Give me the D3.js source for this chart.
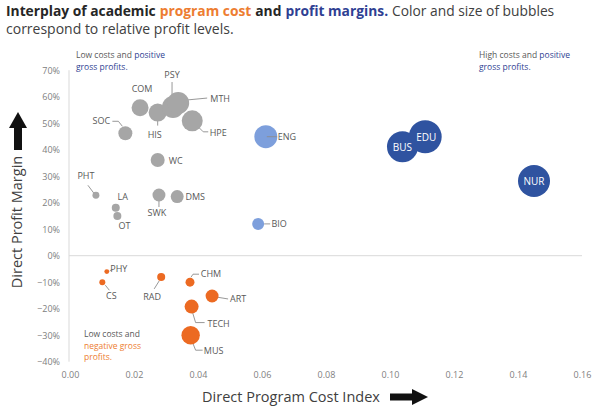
<!DOCTYPE html>
<html><head><meta charset="utf-8">
<script src="https://cdn.jsdelivr.net/npm/d3@7"></script>
<style>
html,body{margin:0;padding:0;background:#fff;}
svg{display:block;font-family:"Open Sans","Noto Sans",sans-serif;}
</style></head>
<body><svg id="c" width="600" height="411"></svg>
<script>
// ---- data ----
const programs = ["COM","HIS","PSY","MTH","HPE","SOC","ENG","WC","PHT","LA","OT","SWK","DMS","BIO","BUS","EDU","NUR","PHY","CS","RAD","CHM","ART","TECH","MUS"];
const costIndex = [0.0219,0.0274,0.0322,0.0338,0.0382,0.0173,0.0612,0.0274,0.0081,0.0143,0.0148,0.0278,0.0335,0.0588,0.1039,0.1110,0.1450,0.0115,0.0101,0.0285,0.0375,0.0444,0.0380,0.0377];
const profitMargin = [0.558,0.540,0.561,0.576,0.509,0.462,0.449,0.361,0.228,0.181,0.150,0.229,0.223,0.120,0.411,0.449,0.282,-0.060,-0.100,-0.080,-0.100,-0.152,-0.192,-0.300];
const profitLevel = [72,81,121,121,110,49,132,49,12,16,16,42,42,36,240,272,256,6,9,16,20,42,49,85];
const group = ["low","low","low","low","low","low","mid","low","low","low","low","low","low","mid","high","high","high","neg","neg","neg","neg","neg","neg","neg"];
const xTicks = [0,0.02,0.04,0.06,0.08,0.10,0.12,0.14,0.16];
const yTicks = [-0.4,-0.3,-0.2,-0.1,0,0.1,0.2,0.3,0.4,0.5,0.6,0.7];

// ---- layout (label offsets relative to bubble centre, leader polylines) ----
const labelLayout = {
  COM:{dx:2,dy:-19}, HIS:{dx:-3,dy:22,ln:[[0,6],[0,13]]},
  PSY:{dx:-1,dy:-32,ln:[[-1,-25],[-1,-8]]}, MTH:{dx:42,dy:-4,ln:[[8,-3],[29,-5]]},
  HPE:{dx:26,dy:12,ln:[[6,6],[11,11],[16,11]]}, SOC:{dx:-24,dy:-12,ln:[[-13,-12],[-7,-12],[-3,-7]]},
  ENG:{dx:21,dy:0,ln:[[1,0],[11,0]]}, WC:{dx:18,dy:1}, PHT:{dx:-10,dy:-19,ln:[[-8,-10],[-2,-2]]},
  LA:{dx:7,dy:-11}, OT:{dx:7,dy:10}, SWK:{dx:-2,dy:18,ln:[[0,6],[0,12]]}, DMS:{dx:18,dy:0},
  BIO:{dx:21,dy:0,ln:[[6,0],[12,0]]}, BUS:{dx:0,dy:1,inside:true}, EDU:{dx:1,dy:1,inside:true},
  NUR:{dx:0,dy:1,inside:true}, PHY:{dx:12,dy:-3,ln:[[3,-1],[6,-2]]}, CS:{dx:9,dy:14,ln:[[3,3],[7,8]]},
  RAD:{dx:-9,dy:20,ln:[[-2,4],[-7,12]]}, CHM:{dx:21,dy:-8,ln:[[1,-5],[3,-8],[9,-8]]},
  ART:{dx:26,dy:3,ln:[[4,1],[16,3]]}, TECH:{dx:27,dy:17,ln:[[1,6],[4,16],[13,16]]},
  MUS:{dx:23,dy:16,ln:[[1,5],[5,15],[12,15]]}
};
const colors = {low:"#a6a6a6", mid:"#7d9fdc", high:"#2f53a0", neg:"#ec6a22"};
const blue = "#2f3f93", orange = "#ed7d31", grey = "#595959";

const svg = d3.select("#c");
const x = d3.scaleLinear().domain([0,0.16]).range([70,582]);
const y = d3.scaleLinear().domain([-0.4,0.7]).range([361.7,70.2]);
const r = d3.scaleSqrt().domain([0,100]).range([0,10]);

// title: separate text runs laid out one after another
function runs(xp, yp, parts, size){
  let cx = xp;
  parts.forEach(p=>{
    const el = svg.append("text").attr("x",cx).attr("y",yp).attr("font-size",size)
      .attr("font-weight",p.b?"bold":"normal").attr("fill",p.c).text(p.t);
    cx += el.node().getComputedTextLength() + (p.gap||0);
  });
}
runs(6,15.5,[
  {t:"Interplay of academic",b:1,c:"#262626",gap:4},
  {t:"program cost",b:1,c:orange,gap:4},
  {t:"and",b:1,c:"#262626",gap:4},
  {t:"profit margins.",b:1,c:blue,gap:4},
  {t:"Color and size of bubbles",b:0,c:"#404040"}
],13.8);
svg.append("text").attr("x",6).attr("y",33.5).attr("font-size",14).attr("fill","#404040").text("correspond to relative profit levels.");

// axes lines
svg.append("line").attr("x1",x(0)-1).attr("x2",x(0)-1).attr("y1",y(0.7)).attr("y2",y(-0.4)).attr("stroke","#d9d9d9").attr("stroke-width",1);
svg.append("line").attr("x1",x(0)-1).attr("x2",x(0.16)).attr("y1",y(0)).attr("y2",y(0)).attr("stroke","#d9d9d9").attr("stroke-width",1);

// tick labels via axes (no lines)
const xa = svg.append("g").attr("transform","translate(0,366)").call(d3.axisBottom(x).tickValues(xTicks).tickFormat(d3.format(".2f")).tickSize(0).tickPadding(6));
const ya = svg.append("g").attr("transform","translate(60,0)").call(d3.axisLeft(y).tickValues(yTicks).tickFormat(d3.format(".0%")).tickSize(0).tickPadding(0));
[xa,ya].forEach(a=>{a.select(".domain").remove(); a.selectAll("text").attr("font-size",9).attr("fill","#808080").attr("font-family","Open Sans, sans-serif");});

// axis titles
svg.append("text").attr("transform","translate(22,222) rotate(-90)").attr("text-anchor","middle").attr("font-size",14.5).attr("fill","#404040").text("Direct Profit Margin");
svg.append("text").attr("x",291).attr("y",402).attr("text-anchor","middle").attr("font-size",14.5).attr("fill","#404040").text("Direct Program Cost Index");
// arrows
svg.append("path").attr("d","M14,150 L14,128 L9,128 L18,112 L27,128 L22,128 L22,150 Z").attr("fill","#111");
svg.append("path").attr("d","M390,393.5 L412,393.5 L412,389 L428,397 L412,405 L412,400.5 L390,400.5 Z").attr("fill","#111");

// data rows
const rows = programs.map((p,i)=>({p, cx:x(costIndex[i]), cy:y(profitMargin[i]), rr:r(profitLevel[i]), g:group[i], L:labelLayout[p]}));

// leaders
svg.append("g").selectAll("polyline").data(rows.filter(d=>d.L.ln)).join("polyline")
  .attr("points",d=>d.L.ln.map(q=>[d.cx+q[0],d.cy+q[1]].join(",")).join(" "))
  .attr("fill","none").attr("stroke","#8c8c8c").attr("stroke-width",0.9);

// bubbles
svg.append("g").selectAll("circle").data(rows).join("circle")
  .attr("cx",d=>d.cx).attr("cy",d=>d.cy).attr("r",d=>d.rr).attr("fill",d=>colors[d.g]);

// leaders that are drawn over bubbles (ENG)
svg.append("g").selectAll("polyline").data(rows.filter(d=>d.p==="ENG")).join("polyline")
  .attr("points",d=>d.L.ln.map(q=>[d.cx+q[0],d.cy+q[1]].join(",")).join(" "))
  .attr("fill","none").attr("stroke","#8c8c8c").attr("stroke-width",0.9);

// labels
svg.append("g").selectAll("text").data(rows).join("text")
  .attr("x",d=>d.cx+d.L.dx).attr("y",d=>d.cy+d.L.dy).attr("dy","0.35em")
  .attr("text-anchor","middle").attr("font-size",d=>d.L.inside?10:9)
  .attr("fill",d=>d.L.inside?"#fff":grey).text(d=>d.p);

// quadrant notes
function note(xp,yp,lines){
  const tx = svg.append("text").attr("font-size",8.5).attr("fill",grey);
  lines.forEach((ln,i)=>{
    const ts = tx.append("tspan").attr("x",xp).attr("y",yp+i*11.7);
    ln.forEach(s=>ts.append("tspan").attr("fill",s[1]).text(s[0]));
  });
}
note(76,58,[[["Low costs and ",grey],["positive",blue]],[["gross profits.",blue]]]);
note(479,58,[[["High costs and ",grey],["positive",blue]],[["gross profits.",blue]]]);
note(84,337,[[["Low costs and",grey]],[["negative gross",orange]],[["profits.",orange]]]);
</script></body></html>
